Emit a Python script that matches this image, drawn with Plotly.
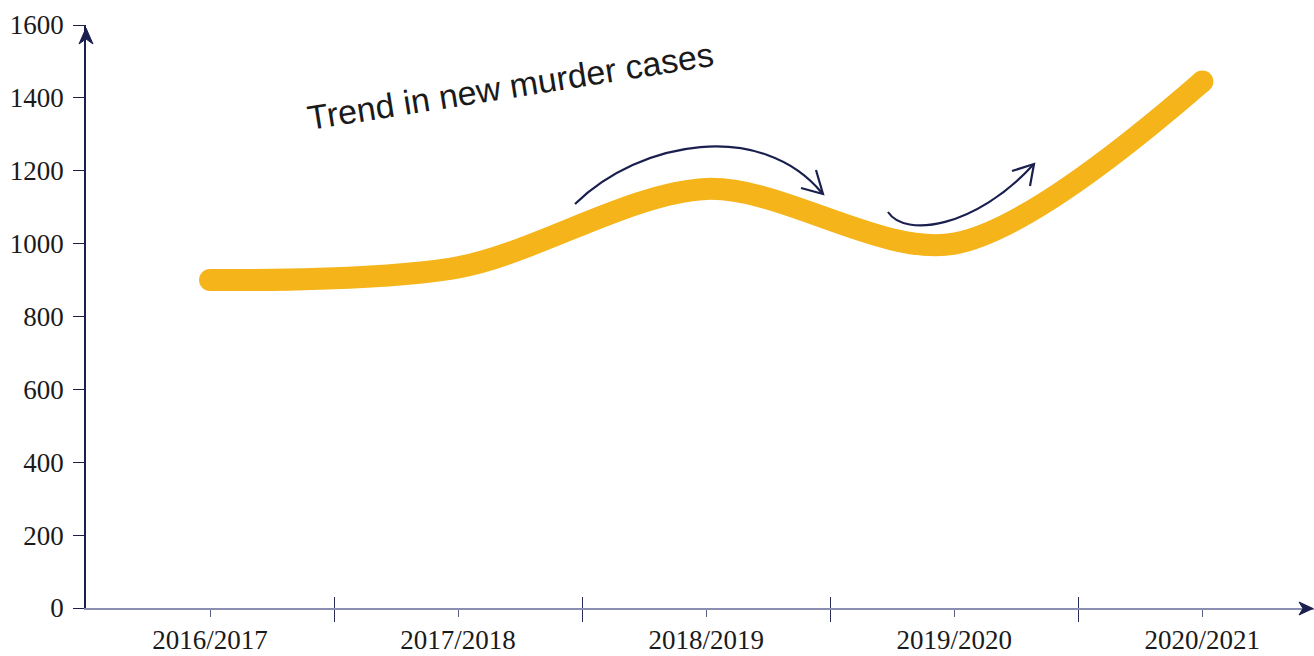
import plotly.graph_objects as go

# ---- data ----
years = ["2016/2017", "2017/2018", "2018/2019", "2019/2020", "2020/2021"]
new_murder_cases = [900, 935, 1150, 1000, 1445]
y_tick_values = [0, 200, 400, 600, 800, 1000, 1200, 1400, 1600]
title_text = "Trend in new murder cases"

W, H = 1314, 656
ML, MR, MT, MB = 86, 0, 25, 48
PW, PH = W - ML - MR, H - MT - MB

LINE_COLOR = "#F4B41A"
NAVY = "#1b1f4e"

# convert page-pixel positions (as measured on the reference) into paper coords
def px(x):
    return (x - ML) / PW

def py(y):
    return (H - MB - y) / PH

xidx = list(range(len(years)))

fig = go.Figure()
fig.add_trace(go.Scatter(
    x=xidx, y=new_murder_cases, mode="lines",
    line=dict(color=LINE_COLOR, width=22, shape="spline", smoothing=0.9),
    hoverinfo="skip", showlegend=False))
# round end caps
fig.add_trace(go.Scatter(
    x=[xidx[0], xidx[-1]], y=[new_murder_cases[0], new_murder_cases[-1]], mode="markers",
    marker=dict(color=LINE_COLOR, size=22, line=dict(width=0)),
    hoverinfo="skip", showlegend=False))
# invisible trace for overlay axis (boundary ticks above the axis)
fig.add_trace(go.Scatter(x=[xidx[0]], y=[0], xaxis="x2", yaxis="y", mode="markers",
                         marker=dict(opacity=0), hoverinfo="skip", showlegend=False))

boundaries = [i + 0.5 for i in xidx[:-1]]

fig.update_layout(
    width=W, height=H,
    margin=dict(l=ML, r=MR, t=MT, b=MB, pad=0),
    paper_bgcolor="white", plot_bgcolor="white",
    xaxis=dict(
        range=[-0.5, 4.45], tickmode="array", tickvals=xidx, ticktext=years,
        ticks="outside", ticklen=7, tickcolor="#5d6189", tickwidth=1,
        showline=True, linecolor="#8a8eb0", linewidth=1.5,
        showgrid=False, zeroline=False, automargin=False,
        tickfont=dict(family="Liberation Serif", size=27, color="#1a1a1a"),
        minor=dict(tickmode="array", tickvals=boundaries, ticks="outside", ticklen=12,
                   tickcolor="#2a2d55", tickwidth=1.2),
    ),
    xaxis2=dict(
        overlaying="x", anchor="y", side="bottom", matches="x",
        range=[-0.5, 4.45], tickmode="array", tickvals=boundaries,
        ticks="inside", ticklen=11, tickcolor="#2a2d55", tickwidth=1.2,
        showticklabels=False, showline=False, showgrid=False, zeroline=False,
        automargin=False,
    ),
    yaxis=dict(
        range=[0, 1600], tickmode="array", tickvals=y_tick_values,
        ticks="outside", ticklen=11, tickcolor=NAVY, tickwidth=1.2,
        showline=True, linecolor=NAVY, linewidth=1.5,
        showgrid=False, zeroline=False, automargin=False,
        ticklabelstandoff=4,
        tickfont=dict(family="Liberation Serif", size=27, color="#1a1a1a"),
    ),
)

def P(x, y):
    return f"{px(x):.5f},{py(y):.5f}"

shapes = []
arc1 = f"M {P(575,204)} C {P(640,140)} {P(762,120)} {P(822,193)}"
head1 = f"M {P(816,170)} L {P(823,194)} L {P(801,188)}"
arc2 = f"M {P(888,212)} C {P(905,238)} {P(975,228)} {P(1033,165)}"
head2 = f"M {P(1012,171)} L {P(1034,164)} L {P(1030,186)}"
for d in [arc1, head1, arc2, head2]:
    shapes.append(dict(type="path", path=d, xref="paper", yref="paper",
                       line=dict(color=NAVY, width=2.2)))

# axis arrowheads (filled darts)
yhead = f"M {P(79,44)} L {P(86,28)} L {P(93,44)} L {P(86,39)} Z"
xhead = f"M {P(1299,602)} L {P(1313,608.5)} L {P(1299,615)} L {P(1303,608.5)} Z"
for d in [yhead, xhead]:
    shapes.append(dict(type="path", path=d, xref="paper", yref="paper",
                       fillcolor=NAVY, line=dict(color=NAVY, width=1)))
fig.update_layout(shapes=shapes)

fig.add_annotation(
    text=title_text, xref="paper", yref="paper",
    x=px(510), y=py(86), xanchor="center", yanchor="middle",
    showarrow=False, textangle=-9,
    font=dict(family="Liberation Sans", size=34, color="#1a1a1a"),
)

fig.write_html(
    "out.html",
    config={"displayModeBar": False},
    post_script="document.body.style.margin='0';document.body.style.overflow='hidden';",
)
